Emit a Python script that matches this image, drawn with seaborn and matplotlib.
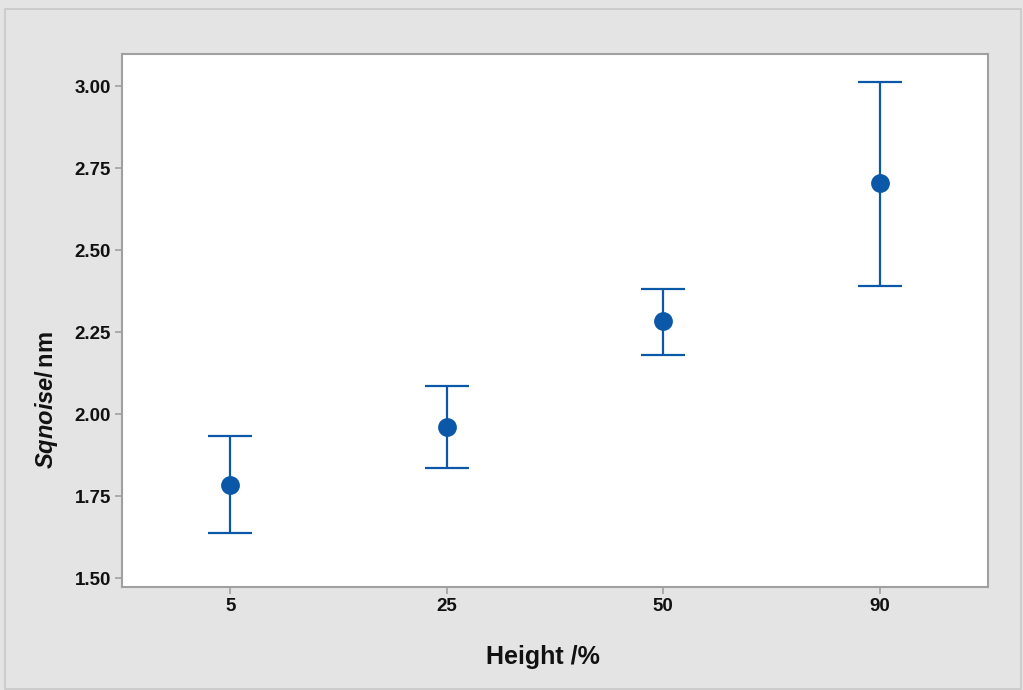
import matplotlib
matplotlib.use("Agg")
import matplotlib.pyplot as plt
import seaborn as sns
import pandas as pd
from matplotlib.patches import Rectangle

# Sq noise per height level: mean with lower/upper interval bounds
heights = ["5", "25", "50", "90"]
sq_mean = [1.785, 1.960, 2.283, 2.703]
sq_lower = [1.637, 1.834, 2.179, 2.390]
sq_upper = [1.933, 2.085, 2.380, 3.013]
y_ticks = [1.50, 1.75, 2.00, 2.25, 2.50, 2.75, 3.00]

sns.set_theme(style="white")
plt.rcParams["font.family"] = ["Liberation Sans", "DejaVu Sans"]
plt.rcParams["mathtext.fontset"] = "custom"
plt.rcParams["mathtext.it"] = "Liberation Sans:bold:italic"
plt.rcParams["mathtext.rm"] = "Liberation Sans:bold"

blue = "#0b57a8"
grey = "#a0a0a0"

df = pd.DataFrame({"height": heights, "mean": sq_mean,
                   "lower": sq_lower, "upper": sq_upper})

fig = plt.figure(figsize=(10.23, 6.9), dpi=100)
fig.patch.set_facecolor("#e4e4e4")
fig.patches.append(Rectangle((0.005, 0.002), 0.993, 0.985, transform=fig.transFigure,
                             fill=False, edgecolor="#c8c8c8", linewidth=1.2))

ax = fig.add_axes([122 / 1023, 1 - 587 / 690, (988 - 122) / 1023, (587 - 54) / 690])
ax.set_facecolor("white")

# interval whiskers with caps
pos = list(range(len(heights)))
ax.errorbar(pos, df["mean"],
            yerr=[df["mean"] - df["lower"], df["upper"] - df["mean"]],
            fmt="none", ecolor=blue, elinewidth=1.6, capsize=16, capthick=1.6, zorder=2)

# mean markers
sns.pointplot(data=df, x="height", y="mean", order=heights, color=blue,
              linestyle="none", marker="o", markersize=11.5, errorbar=None, ax=ax)
for ln in ax.lines:
    if ln.get_marker() == "o":
        ln.set_zorder(3)

ax.set_xlim(-0.5, 3.5)
ax.set_ylim(1.4726, 3.0976)
ax.set_yticks(y_ticks)
ax.set_yticklabels([f"{v:.2f}" for v in y_ticks])

for s in ax.spines.values():
    s.set_color(grey)
    s.set_linewidth(1.5)

ax.tick_params(axis="both", which="major", direction="out", length=5, width=1.2,
               color=grey, labelsize=13.5, pad=3, left=True, bottom=True)
for lab in ax.get_xticklabels() + ax.get_yticklabels():
    lab.set_fontweight("bold")
    lab.set_color("#111111")

ax.set_xlabel("Height /%", fontsize=18, fontweight="bold", color="#111111")
ax.set_ylabel(r"$\mathit{Sqnoise}\mathrm{/\,nm}$", fontsize=17, color="#111111")
ax.xaxis.set_label_coords((543 - 122) / 866, (587 - 657) / 533)
ax.yaxis.set_label_coords((46 - 122) / 866, (587 - 400) / 533)
ax.xaxis.label.set_va("center")
ax.yaxis.label.set_va("center")

fig.savefig("out.png", dpi=100, facecolor=fig.get_facecolor())
